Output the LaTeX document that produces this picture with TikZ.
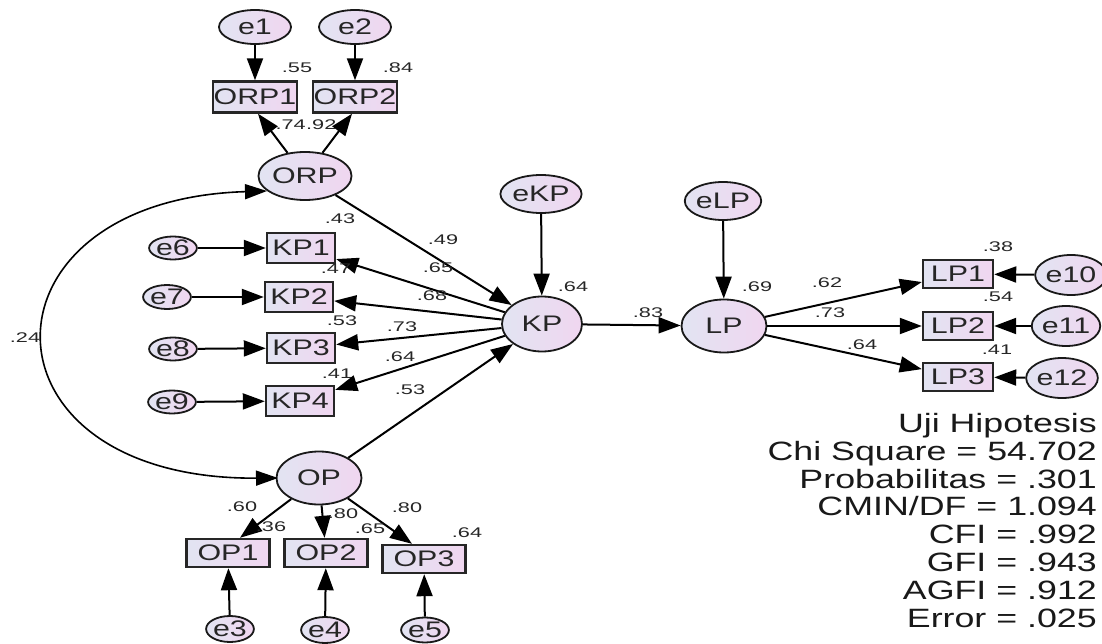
\documentclass[tikz,border=0pt]{standalone}
\usepackage{fontspec}
\setmainfont[FakeStretch=1.35]{Liberation Sans}
\newfontfamily\numfont[FakeStretch=1.55]{Liberation Sans}
\usetikzlibrary{shapes.geometric,arrows.meta}
\definecolor{cA}{RGB}{226,228,242}
\definecolor{cB}{RGB}{240,214,240}
\begin{document}
\begin{tikzpicture}[x=1pt,y=-1pt,
  lat/.style={ellipse, draw=black!90, line width=1.8pt, inner sep=0pt, left color=cA, right color=cB, font=\fontsize{22.5}{24}\selectfont, text=black!85},
  obs/.style={rectangle, draw=black!85, line width=2.4pt, inner sep=0pt, left color=cA, right color=cB, font=\fontsize{22.5}{24}\selectfont, text=black!85},
  lab/.style={font=\numfont\fontsize{14}{15}\selectfont, inner sep=0pt, text=black!85},
  arr/.style={-{Triangle[length=22pt,width=16pt]}, line width=2pt},
  dbl/.style={{Triangle[length=22pt,width=15pt]}-{Triangle[length=22pt,width=15pt]}, line width=1.6pt}
]
\useasboundingbox (0,0) rectangle (1102,644);
% ORP block
\node[lat, minimum width=72pt, minimum height=34pt] (e1) at (255,27) {e1};
\node[lat, minimum width=72pt, minimum height=34pt] (e2) at (355,27) {e2};
\node[obs, minimum width=84pt, minimum height=31pt] (ORP1) at (255,97) {ORP1};
\node[obs, minimum width=84pt, minimum height=31pt] (ORP2) at (355,97) {ORP2};
\node[lat, minimum width=84pt, minimum height=48pt] (ORP) at (305,176) {ORP};
% KP block
\node[lat, minimum width=62pt, minimum height=38pt] (eKP) at (541,194) {eKP};
\node[lat, minimum width=80pt, minimum height=55pt] (KP) at (542,324) {KP};
\node[obs, minimum width=68pt, minimum height=30pt] (KP1) at (301,248) {KP1};
\node[obs, minimum width=68pt, minimum height=30pt] (KP2) at (299,297) {KP2};
\node[obs, minimum width=68pt, minimum height=30pt] (KP3) at (301,348) {KP3};
\node[obs, minimum width=68pt, minimum height=30pt] (KP4) at (300,401) {KP4};
\node[lat, minimum width=40pt, minimum height=23pt] (e6) at (173,248) {e6};
\node[lat, minimum width=42pt, minimum height=24pt] (e7) at (167,297) {e7};
\node[lat, minimum width=40pt, minimum height=23pt] (e8) at (173,349) {e8};
\node[lat, minimum width=40pt, minimum height=23pt] (e9) at (172,402) {e9};
% LP block
\node[lat, minimum width=56pt, minimum height=38pt] (eLP) at (723,201) {eLP};
\node[lat, minimum width=85pt, minimum height=53pt] (LP) at (724,326) {LP};
\node[obs, minimum width=70pt, minimum height=28pt] (LP1) at (958,274) {LP1};
\node[obs, minimum width=70pt, minimum height=28pt] (LP2) at (958,326) {LP2};
\node[obs, minimum width=70pt, minimum height=28pt] (LP3) at (958,377) {LP3};
\node[lat, minimum width=62pt, minimum height=40pt] (e10) at (1071,275) {e10};
\node[lat, minimum width=58pt, minimum height=40pt] (e11) at (1066,326) {e11};
\node[lat, minimum width=60pt, minimum height=40pt] (e12) at (1062,378) {e12};
% OP block
\node[lat, minimum width=85pt, minimum height=53pt] (OP) at (319,478) {OP};
\node[obs, minimum width=83pt, minimum height=28pt] (OP1) at (228,553) {OP1};
\node[obs, minimum width=83pt, minimum height=28pt] (OP2) at (326,553) {OP2};
\node[obs, minimum width=83pt, minimum height=28pt] (OP3) at (424,559) {OP3};
\node[lat, minimum width=46pt, minimum height=26pt] (e3) at (230,629) {e3};
\node[lat, minimum width=46pt, minimum height=26pt] (e4) at (325,630) {e4};
\node[lat, minimum width=46pt, minimum height=25pt] (e5) at (425,630) {e5};
% connectors
\draw[arr] (e1) -- (ORP1);
\draw[arr] (e2) -- (ORP2);
\draw[arr] (ORP) -- ([xshift=3pt]ORP1.south);
\draw[arr] (ORP) -- ([xshift=-3pt]ORP2.south);
\draw[arr] (ORP) -- (KP);
\draw[arr] (OP) -- (KP);
\draw[arr] (eKP) -- (KP);
\draw[arr] (KP) -- (KP1);
\draw[arr] (KP) -- (KP2);
\draw[arr] (KP) -- (KP3);
\draw[arr] (KP) -- (KP4);
\draw[arr] (e6) -- (KP1);
\draw[arr] (e7) -- (KP2);
\draw[arr] (e8) -- (KP3);
\draw[arr] (e9) -- (KP4);
\draw[arr] (KP) -- (LP);
\draw[arr] (eLP) -- (LP);
\draw[arr] (LP) -- (LP1);
\draw[arr] (LP) -- (LP2);
\draw[arr] (LP) -- (LP3);
\draw[arr] (e10) -- (LP1);
\draw[arr] (e11) -- (LP2);
\draw[arr] (e12) -- (LP3);
\draw[arr] (OP) -- ([xshift=12pt]OP1.north);
\draw[arr] (OP) -- (OP2);
\draw[arr] (OP) -- ([xshift=-12pt]OP3.north);
\draw[arr] (e3) -- (OP1);
\draw[arr] (e4) -- (OP2);
\draw[arr] (e5) -- (OP3);
\coordinate (ca) at (267,191);
\coordinate (cb) at (278,478);
\draw[dbl] (ca) .. controls (-30,200) and (-30,480) .. (cb);
% labels
\node[lab] (l55) at (297,68) {.55};
\node[lab] (l84) at (398,68) {.84};
\node[lab, anchor=east] (l74) at (306,125) {.74};
\node[lab, anchor=west] (l92) at (306,125) {.92};
\node[lab] (l43) at (340,219) {.43};
\node[lab] (l49) at (443,240) {.49};
\node[lab] (l65) at (438,268) {.65};
\node[lab] (l47) at (336,269) {.47};
\node[lab] (l68) at (432,296) {.68};
\node[lab] (l53a) at (342,321) {.53};
\node[lab] (l73) at (402,327) {.73};
\node[lab] (l64a) at (400,357) {.64};
\node[lab] (l41) at (337,374) {.41};
\node[lab] (l53b) at (410,390) {.53};
\node[lab] (l64b) at (573,287) {.64};
\node[lab] (l83) at (648,313) {.83};
\node[lab] (l69) at (757,287) {.69};
\node[lab] (l62) at (827,283) {.62};
\node[lab] (l73b) at (830,313) {.73};
\node[lab] (l64c) at (862,345) {.64};
\node[lab] (l38) at (998,247) {.38};
\node[lab] (l54) at (998,297) {.54};
\node[lab] (l41b) at (997,350) {.41};
\node[lab] (l24) at (25,338) {.24};
\node[lab] (l60) at (242,507) {.60};
\node[lab] (l36) at (271,527) {.36};
\node[lab] (l80a) at (343,514) {.80};
\node[lab] (l65b) at (370,529) {.65};
\node[lab] (l80b) at (407,508) {.80};
\node[lab] (l64d) at (467,533) {.64};
% stats
\node[anchor=north east, align=right, inner sep=0pt, font=\fontsize{26.5}{27.8}\selectfont, text=black!90] (stats) at (1097,413)
  {Uji Hipotesis\\Chi Square = 54.702\\Probabilitas = .301\\CMIN/DF = 1.094\\CFI = .992\\GFI = .943\\AGFI = .912\\Error = .025};
\end{tikzpicture}
\end{document}
